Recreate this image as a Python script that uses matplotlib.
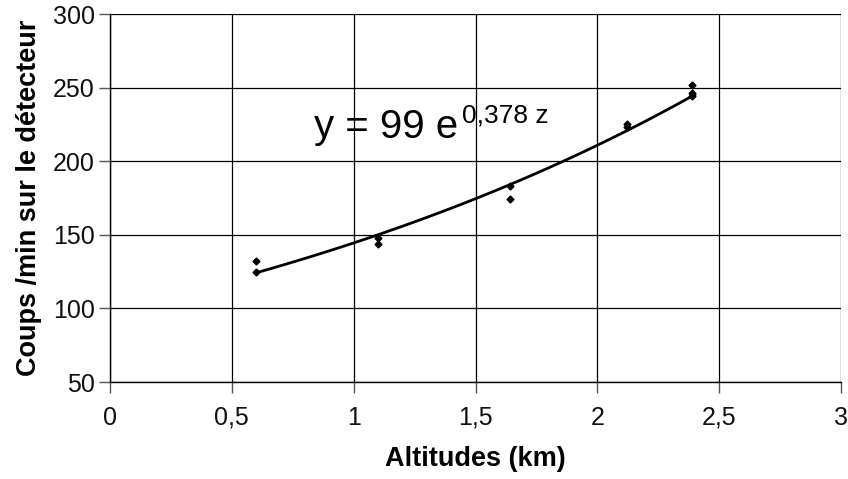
import numpy as np
import matplotlib.pyplot as plt
from matplotlib.ticker import FuncFormatter

plt.rcParams['font.family'] = ['Liberation Sans', 'DejaVu Sans']

# measured points (altitude km, counts/min)
alt = [0.60, 0.60, 1.10, 1.10, 1.64, 1.64, 2.12, 2.12, 2.39, 2.39, 2.39]
counts = [132, 125, 148, 144, 183, 174, 225, 223, 252, 246, 244]

# fitted law y = 99 exp(0.378 z)
a_fit = 99
b_fit = 0.378
z_fit = np.linspace(0.6, 2.4, 100)

fig = plt.figure(figsize=(8.48, 4.79), dpi=100)
ax = fig.add_axes([110/848, 1 - 382/479, 731/848, 368/479])

ax.plot(z_fit, a_fit * np.exp(b_fit * z_fit), color='black', lw=2)
ax.plot(alt, counts, 'D', color='black', ms=3.5)

ax.set_xlim(0, 3)
ax.set_ylim(50, 300)
ax.set_xticks(np.arange(0, 3.01, 0.5))
ax.set_yticks(np.arange(50, 301, 50))
ax.xaxis.set_major_formatter(FuncFormatter(lambda v, p: ('%g' % v).replace('.', ',')))
ax.grid(True, color='black', lw=0.9)
ax.set_axisbelow(True)
for s in ['top', 'right']:
    ax.spines[s].set_visible(False)
for s in ['left', 'bottom']:
    ax.spines[s].set_linewidth(1.0)
ax.tick_params(direction='out', length=8, width=1, labelsize=18, colors='#555555',
               labelcolor='#111111', pad=3)
ax.tick_params(axis='x', pad=9)

ax.set_xlabel('Altitudes (km)', fontsize=19.5, fontweight='bold', labelpad=12)
ax.set_ylabel('Coups /min sur le détecteur', fontsize=19.5, fontweight='bold', labelpad=8)

ax.text(0.839, 215.8, 'y = 99 e', fontsize=29, va='baseline')
ax.text(1.445, 226.6, '0,378 z', fontsize=19, va='baseline')

fig.savefig('out.png', dpi=100)
